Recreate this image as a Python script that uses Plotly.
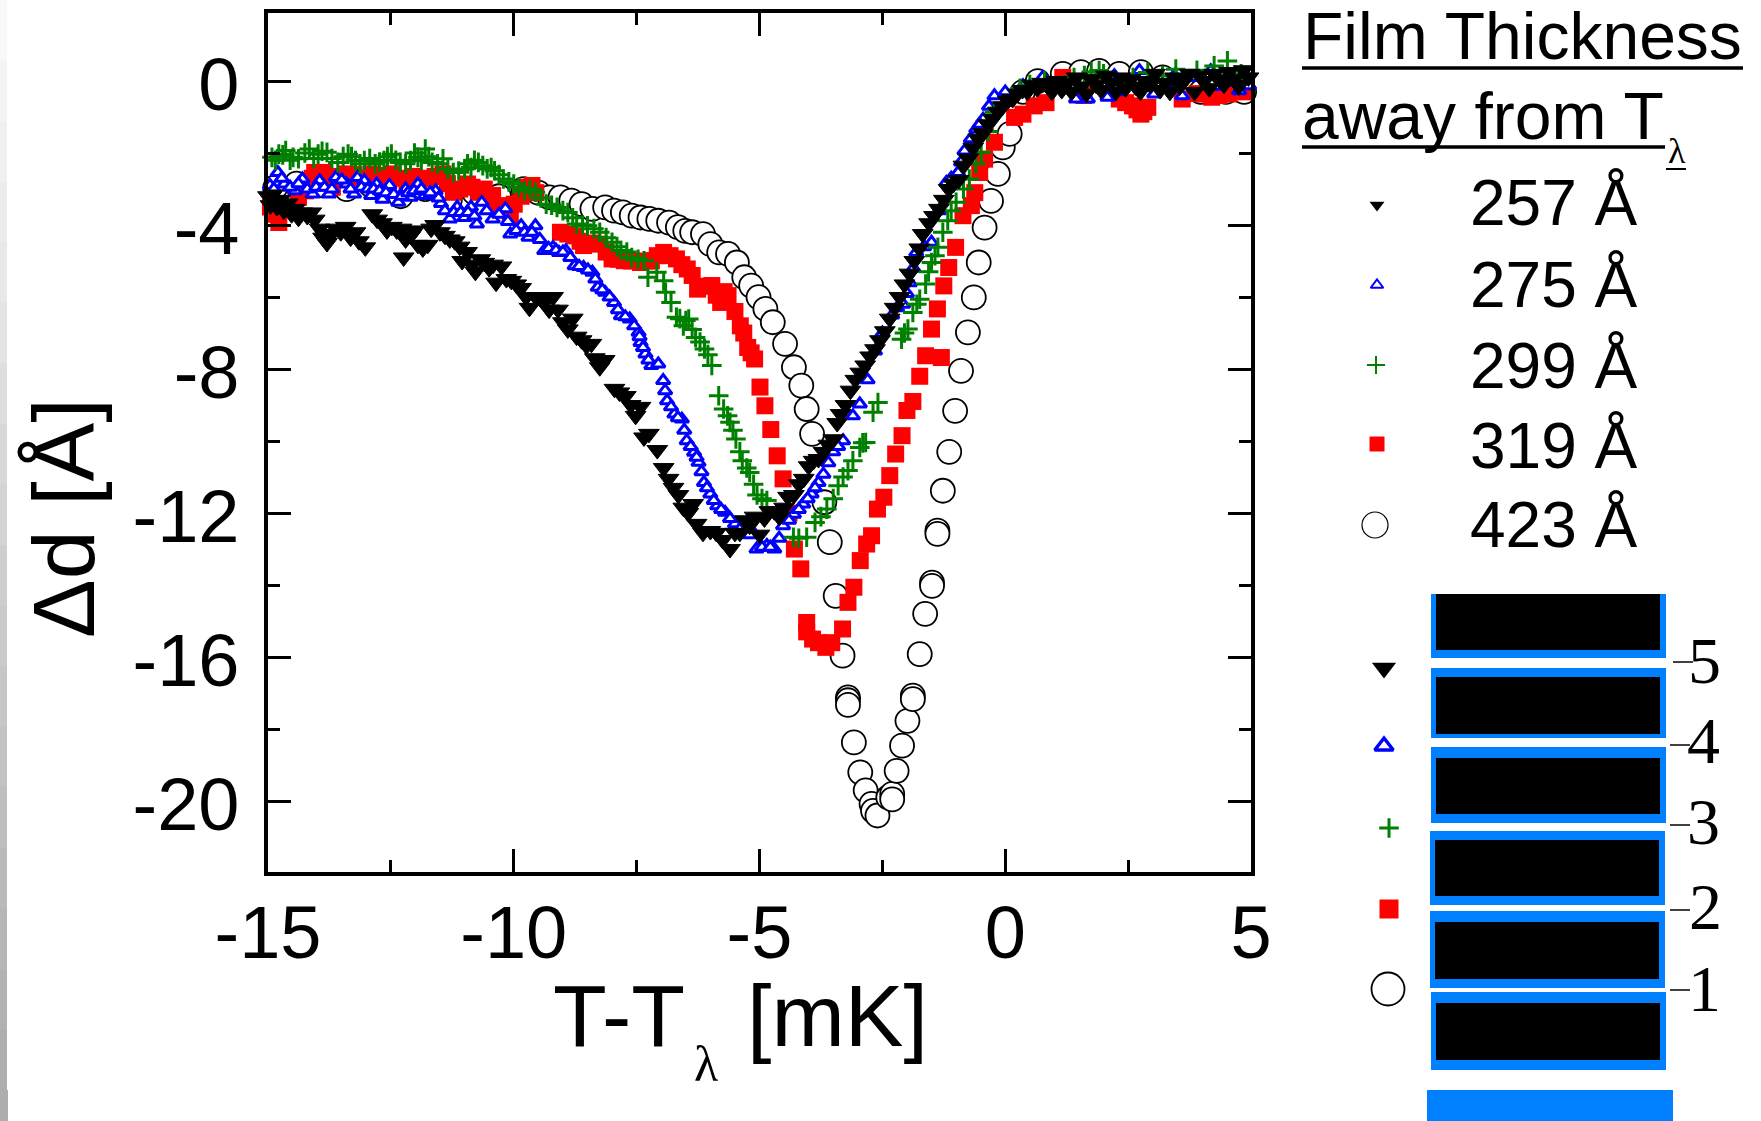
import plotly.graph_objects as go

W, H = 1761, 1121

x_tick_vals = [-15, -10, -5, 0, 5]
x_tick_text = ["-15", "-10", "-5", "0", "5"]
x_minor_vals = [-12.5, -7.5, -2.5, 2.5]
y_tick_vals = [0, -4, -8, -12, -16, -20]
y_tick_text = ["0", "-4", "-8", "-12", "-16", "-20"]
y_minor_vals = [-2, -6, -10, -14, -18]

x_257 = [-15.0,-14.95,-14.9,-14.82,-14.75,-14.68,-14.6,-14.52,-14.45,-14.38,-14.3,-14.2,-14.12,-14.05,-13.95,-13.88,-13.8,-13.72,-13.62,-13.52,-13.42,-13.32,-13.22,-13.15,-13.02,
 -12.88,-12.78,-12.68,-12.58,-12.48,-12.38,-12.28,-12.24,-12.2,-12.1,-12.02,-11.95,-11.85,-11.75,-11.68,-11.6,-11.5,-11.4,-11.3,-11.2,-11.1,-11.05,-10.95,-10.85,-10.78,-10.68,-10.6,-10.5,
 -10.42,-10.36,-10.25,-10.15,-10.05,-9.95,-9.85,-9.75,-9.68,-9.55,-9.45,-9.35,-9.28,-9.2,-9.1,-9.0,-8.9,-8.8,-8.72,-8.62,-8.52,-8.42,-8.35,-8.25,-8.15,
 -7.95,-7.85,-7.72,-7.62,-7.52,-7.42,-7.35,-7.25,-7.08,-6.95,-6.85,-6.75,-6.65,-6.55,-6.45,-6.35,-6.28,-6.15,-6.0,-5.88,-5.75,-5.6,-5.5,-5.4,-5.3,-5.2,-5.1,-5.0,-4.9,-4.8,-4.7,-4.6,-4.5,-4.42,-4.3,-4.2,-4.1,-4.0,-3.9,-3.8,-3.7,-3.6,-3.5,-3.42,-3.35,-3.25,-3.15,-3.05,-2.95,-2.85,-2.75,-2.65,-2.55,-2.45,-2.35,-2.25,-2.15,-2.05,-1.95,-1.85,-1.75,-1.68,-1.55,-1.45,-1.35,-1.25,-1.15,-1.05,-0.95,-0.85,-0.75,-0.65,-0.55,-0.45,-0.35,-0.25,-0.15,-0.05,0.05,0.15,0.25,0.35,0.45,0.55,0.65,0.75,
 0.85,0.95,1.05,1.15,1.25,1.35,1.45,1.55,1.65,1.75,1.85,1.95,2.05,2.15,2.25,2.35,2.45,2.55,2.65,2.75,2.85,2.95,3.05,3.15,3.25,3.35,3.45,3.55,3.65,3.75,3.85,3.95,4.05,4.15,4.25,4.35,4.45,4.55,4.65,4.75,4.85,4.95]
y_257 = [-3.2,-3.45,-3.15,-3.5,-3.3,-3.6,-3.4,-3.7,-3.55,-3.8,-3.65,-3.75,-3.65,-3.85,-4.1,-4.35,-4.5,-4.25,-4.1,-4.2,-4.05,-4.35,-4.2,-4.45,-4.62,
 -3.7,-3.85,-3.95,-4.15,-4.05,-4.15,-4.1,-4.9,-4.4,-4.3,-4.15,-4.55,-4.65,-4.55,-4.1,-4.0,-4.2,-4.3,-4.4,-4.45,-4.6,-5.0,-4.75,-5.1,-5.3,-4.95,-5.05,-5.2,
 -5.1,-5.6,-5.15,-5.5,-5.55,-5.65,-5.75,-6.0,-6.3,-6.0,-6.05,-6.1,-6.35,-6.0,-6.35,-6.7,-6.9,-6.6,-7.1,-7.2,-7.35,-7.3,-7.7,-7.95,-7.75,
 -8.55,-8.65,-8.75,-9.0,-9.3,-9.05,-9.9,-9.8,-10.25,-10.75,-11.05,-11.3,-11.5,-11.85,-12.0,-11.75,-12.3,-12.55,-12.5,-12.55,-12.75,-13.0,-12.55,-12.55,-12.2,-12.35,-12.1,-12.6,-12.15,-11.95,-11.95,-12.1,-11.85,-11.55,-11.5,-11.2,-11.05,-10.7,-10.55,-10.5,-10.3,-10.1,-9.95,-9.5,-9.25,-9.0,-8.6,-8.3,-8.1,-7.9,-7.65,-7.45,-7.2,-6.95,-6.6,-6.3,-6.0,-5.65,-5.35,-5.0,-4.65,-4.25,-3.95,-3.75,-3.55,-3.3,-3.0,-2.85,-2.75,-2.35,-2.15,-1.85,-1.6,-1.45,-1.2,-1.05,-0.85,-0.7,-0.55,-0.5,-0.35,-0.25,-0.3,-0.1,-0.2,-0.05,
 -0.1,-0.3,0.0,-0.25,-0.05,-0.3,0.1,-0.15,-0.35,0.05,-0.1,-0.25,0.15,-0.05,-0.3,0.1,-0.2,0.05,-0.15,-0.3,0.0,-0.1,0.2,-0.25,-0.05,-0.3,0.1,-0.15,0.05,0.2,-0.3,0.15,0.0,-0.2,0.2,0.05,-0.1,0.25,0.05,-0.15,0.3,0.1]

x_275 = [-14.96,-14.8,-14.67,-14.45,-14.3,-14.09,-13.95,-13.76,-13.62,-13.4,-13.25,-13.18,-13.04,-12.9,-12.79,-12.67,-12.53,-12.35,-12.2,-12.1,-11.95,-11.81,-11.59,-11.48,-11.3,-11.15,-11.0,-10.87,-10.75,-10.65,-10.43,-10.17,-10.07,-9.85,-9.7,-9.56,-9.38,-9.2,-9.08,-8.94,-8.76,-8.58,-8.4,-8.29,-8.14,-7.96,-7.82,-7.64,-7.46,-7.42,-7.32,-7.2,-7.06,-6.96,-6.88,-6.73,-6.58,-6.48,-6.33,-6.24,-6.13,-6.0,-5.86,-5.7,-5.5,-5.31,-5.13,-5.06,-4.85,-4.7,-4.52,-4.3,-4.11,-3.94,-3.8,-3.7,-3.5,-3.3,-3.1,-2.96,-2.8,-2.65,-2.5,-2.3,-2.08,-1.94,-1.81,-1.5,-1.2,-0.96,-0.83,-0.59,-0.45,-0.22,0.36,0.76,1.44,1.68,2.08,2.22,2.52,2.73,3.03,3.44,3.6,4.18,4.55,4.76,4.96,
 -14.88,-14.72,-14.55,-14.38,-14.2,-14.02,-13.85,-13.7,-13.5,-13.32,-13.1,-12.97,-12.85,-12.73,-12.6,-12.44,-12.28,-12.15,-12.03,-11.88,-11.7,-11.53,-11.4,-11.22,-11.08,-10.93,-10.8,-10.55,-10.3,-10.12,-9.95,-9.78,-9.63,-9.47,-9.29,-9.14,-9.0,-8.85,-8.67,-8.49,-8.34,-8.2,-8.05,-7.88,-7.73,-7.55,-7.44,-7.37,-7.26,-6.92,-6.8,-6.66,-6.53,-6.4,-6.28,-6.18,-6.07,-5.93,-5.78,-5.6,-5.4,-5.2,-4.95,-4.78,-4.6,-4.4,-4.2,-4.02,-3.87,-3.6,-3.4,-2.2,-2.0,-1.87,-1.65,-1.35,-1.1,-0.9,-0.7,-0.52,-0.33,0.0,1.0,2.3,2.95,3.3,3.8,4.35]
y_275 = [-2.9,-2.54,-2.86,-3.05,-2.72,-3.14,-2.77,-3.14,-2.68,-2.86,-3.14,-2.68,-2.77,-3.18,-2.86,-3.28,-2.9,-3.37,-3.0,-3.23,-2.86,-3.18,-3.05,-3.4,-3.83,-3.5,-3.79,-3.5,-3.97,-3.37,-3.83,-3.55,-4.25,-4.02,-4.34,-4.02,-4.71,-4.62,-4.76,-4.71,-5.13,-5.18,-5.31,-5.73,-5.87,-6.15,-6.52,-6.61,-6.98,-7.26,-7.58,-7.9,-7.86,-8.32,-8.88,-9.25,-9.39,-9.99,-10.31,-10.59,-11.15,-11.47,-11.8,-11.98,-12.3,-12.58,-12.54,-13.0,-12.9,-13.0,-12.35,-12.03,-11.75,-11.47,-11.15,-10.92,-10.3,-9.99,-9.3,-8.97,-8.3,-7.5,-7.0,-6.5,-6.2,-5.6,-4.76,-4.48,-2.82,-2.54,-1.94,-1.33,-1.06,-0.41,-0.13,0.1,-0.5,-0.5,-0.45,0.15,-0.04,0.29,-0.36,0.15,-0.41,0.29,-0.04,-0.27,-0.13,
 -3.0,-2.7,-2.95,-2.85,-3.0,-2.95,-2.95,-3.0,-2.75,-3.0,-2.95,-3.0,-3.0,-3.05,-3.1,-3.15,-3.2,-3.1,-3.05,-3.0,-3.1,-3.25,-3.6,-3.65,-3.65,-3.65,-3.75,-3.6,-3.7,-3.9,-4.15,-4.2,-4.2,-4.4,-4.65,-4.7,-4.75,-4.9,-5.15,-5.25,-5.5,-5.8,-6.0,-6.35,-6.55,-6.8,-7.1,-7.4,-7.75,-8.6,-9.05,-9.35,-9.7,-10.15,-10.45,-10.85,-11.3,-11.65,-11.9,-12.15,-12.45,-12.6,-12.95,-12.95,-12.7,-12.2,-11.9,-11.6,-11.3,-10.6,-10.15,-6.3,-5.9,-5.2,-4.6,-3.6,-2.7,-2.25,-1.6,-1.2,-0.7,-0.3,-0.1,-0.3,-0.1,-0.2,0.1,-0.15]

x_299 = [-14.92,-14.78,-14.64,-14.49,-14.38,-14.16,-13.98,-13.8,-13.58,-13.37,-13.22,-13.04,-12.82,-12.64,-12.49,-12.31,-12.1,-11.95,-11.8,-11.66,-11.44,-11.23,-11.0,-10.87,-10.72,-10.54,-10.39,-10.21,-10.0,-9.78,-9.56,-9.34,-9.12,-8.9,-8.72,-8.5,-8.25,-8.0,-7.82,-7.6,-7.35,-7.27,-7.09,-6.95,-6.91,-6.8,-6.69,-6.55,-6.44,-6.3,-6.12,-5.97,-5.83,-5.73,-5.6,-5.48,-5.35,-5.2,-5.12,-4.95,-4.31,-4.04,-3.87,-3.63,-3.4,-3.2,-3.1,-2.96,-2.84,-2.69,-2.59,-2.11,-1.98,-1.88,-1.74,-1.62,-1.5,-1.37,-1.17,-1.0,-0.73,-0.49,-0.22,0.3,0.8,1.2,1.61,1.91,2.3,2.9,3.47,4.25,4.52,4.8,
 -14.85,-14.7,-14.55,-14.25,-14.07,-13.9,-13.7,-13.47,-13.3,-13.13,-12.93,-12.73,-12.57,-12.4,-12.2,-12.02,-11.88,-11.73,-11.55,-11.34,-11.12,-10.94,-10.8,-10.63,-10.46,-10.3,-10.1,-9.9,-9.67,-9.45,-9.23,-9.0,-8.8,-8.6,-8.37,-8.12,-7.9,-7.7,-7.47,-6.62,-6.5,-6.37,-6.21,-6.05,-5.65,-5.54,-5.4,-5.26,-5.05,-4.85,-4.2,-3.75,-3.5,-3.3,-2.9,-2.05,-1.8,-1.56,-1.43,-1.27,-1.1,-0.85,-0.6,-0.35,0.5,1.4,1.75,2.0,2.6,3.2,3.9]
y_299 = [-2.12,-2.03,-1.93,-2.12,-2.16,-1.89,-2.03,-1.98,-2.26,-2.03,-2.21,-2.21,-2.3,-2.21,-2.03,-2.26,-2.21,-2.12,-1.89,-2.26,-2.16,-2.54,-2.44,-2.4,-2.26,-2.44,-2.49,-2.72,-2.86,-3.05,-3.09,-3.42,-3.51,-3.65,-3.97,-4.02,-4.2,-4.48,-4.71,-4.9,-4.99,-5.45,-5.31,-5.55,-5.87,-6.15,-6.56,-6.8,-6.61,-7.12,-7.44,-7.9,-8.74,-9.11,-9.48,-9.94,-10.55,-10.87,-11.2,-11.6,-12.67,-12.67,-12.26,-11.89,-11.24,-10.82,-10.55,-10.18,-10.04,-9.2,-8.93,-7.17,-6.89,-6.43,-6.06,-5.64,-5.04,-4.62,-3.88,-3.37,-2.72,-1.98,-0.87,-0.2,0.0,-0.1,0.15,0.29,-0.05,0.24,0.33,0.42,0.56,0.2,
 -2.2,-2.05,-2.2,-2.0,-2.15,-1.95,-2.15,-2.1,-2.1,-2.3,-2.15,-2.25,-2.1,-2.2,-2.3,-2.0,-2.2,-2.1,-2.3,-2.45,-2.5,-2.3,-2.2,-2.35,-2.4,-2.6,-2.8,-2.95,-3.0,-3.25,-3.45,-3.6,-3.8,-4.0,-4.1,-4.35,-4.6,-4.75,-4.95,-6.6,-6.65,-6.9,-7.25,-7.6,-9.3,-9.7,-10.3,-10.75,-11.5,-11.65,-12.7,-12.1,-11.6,-11.0,-10.05,-7.0,-6.2,-5.3,-4.85,-4.2,-3.6,-3.0,-2.3,-1.4,-0.1,0.1,0.25,0.2,0.1,0.15,0.3]

x_319 = [-14.95,-14.88,-14.78,-14.38,-14.24,-14.05,-13.87,-13.69,-13.4,-13.11,-12.9,-12.65,-12.46,-12.17,-11.95,-11.74,-11.44,-11.23,-10.94,-10.72,-10.43,-10.32,-10.07,-9.99,-9.74,-9.63,
 -9.05,-8.76,-8.58,-8.25,-8.0,-7.75,-7.42,-7.2,-6.95,-6.69,-6.47,-6.26,-5.97,-5.79,-5.64,-5.39,-5.24,-5.1,-4.99,-4.89,-4.77,-4.64,-4.52,-4.4,-4.29,-4.16,-4.04,-4.04,-3.92,-3.8,-3.65,-3.53,-3.31,-3.2,-3.08,-2.95,-2.82,-2.72,-2.6,-2.47,-2.35,-2.23,-2.1,-2.0,-1.88,-1.74,-1.62,-1.5,-1.38,-1.3,-1.25,-1.15,-1.01,-0.86,-0.69,-0.62,-0.52,-0.42,-0.22,0.19,0.36,0.59,0.83,1.17,1.6,2.32,2.59,2.76,2.9,3.6,4.05,4.2,4.55,4.89,
 -14.1,-13.95,-13.8,-13.55,-13.25,-13.0,-12.78,-12.55,-12.3,-12.05,-11.85,-11.6,-11.35,-11.1,-10.85,-10.6,-10.2,-9.85,-9.55,
 -8.9,-8.65,-8.4,-8.12,-7.88,-7.6,-7.3,-7.08,-6.82,-6.58,-6.37,-6.12,-5.88,-5.72,-5.5,-5.32,-5.17,2.45,2.68,2.82,3.9,4.35]
y_319 = [-3.5,-3.7,-3.93,-3.23,-3.05,-2.54,-2.54,-2.95,-2.58,-2.72,-2.58,-2.68,-2.58,-2.86,-2.77,-2.72,-2.58,-3.09,-2.86,-3.09,-3.18,-3.46,-3.79,-3.42,-2.95,-2.9,
 -4.2,-4.3,-4.57,-4.53,-4.94,-4.99,-5.04,-4.99,-4.76,-4.94,-5.22,-5.78,-5.68,-6.15,-5.96,-6.8,-7.4,-7.72,-8.5,-9.02,-9.68,-10.41,-11.05,-12.0,-13.0,-13.55,-15.04,-15.3,-15.5,-15.6,-15.73,-15.6,-15.22,-14.48,-14.06,-13.32,-12.86,-12.63,-11.89,-11.56,-10.96,-10.36,-9.85,-9.15,-8.9,-8.2,-7.63,-6.89,-6.33,-7.68,-5.69,-5.18,-4.62,-3.74,-3.46,-3.1,-2.54,-2.17,-1.7,-1.01,-0.92,-0.69,-0.6,0.1,-0.4,-0.5,-0.69,-0.92,-0.73,-0.5,-0.36,-0.45,-0.36,-0.3,
 -2.7,-2.6,-2.8,-2.65,-2.6,-2.7,-2.62,-2.75,-2.7,-2.65,-2.7,-2.65,-2.85,-3.0,-2.95,-3.0,-3.55,-3.2,-3.1,
 -4.25,-4.45,-4.5,-4.75,-4.95,-5.0,-5.0,-4.85,-4.85,-5.1,-5.4,-5.7,-5.95,-5.85,-6.4,-7.0,-7.55,-0.6,-0.8,-0.85,-0.35,-0.4]

x_423 = [-14.85,-14.42,-13.9,-13.4,-12.9,-12.3,-11.8,-11.3,-10.8,-10.3,-9.8,-9.5,-9.27,-9.05,-8.83,-8.62,-8.4,-8.14,-7.96,-7.78,-7.6,-7.42,-7.24,-7.06,-6.84,-6.66,-6.51,-6.37,-6.15,-6.0,-5.82,-5.64,-5.46,-5.31,-5.17,-5.02,-4.88,-4.73,-4.48,-4.3,-4.15,-4.04,-3.93,-3.68,-3.57,-3.45,-3.31,-3.2,-3.2,-3.2,-3.08,-2.95,-2.84,-2.72,-2.69,-2.6,-2.38,-2.3,-2.3,-2.21,-2.1,-1.99,-1.88,-1.88,-1.74,-1.63,-1.49,-1.49,-1.38,-1.38,-1.27,-1.14,-1.02,-0.9,-0.76,-0.64,-0.54,-0.42,-0.29,-0.15,-0.05,0.09,0.36,0.66,1.17,1.54,1.91,2.32,2.76,3.2,3.98,4.49,4.86]
y_423 = [-2.95,-2.85,-2.9,-3.0,-2.9,-3.2,-3.0,-3.3,-3.1,-3.2,-3.0,-3.1,-3.23,-3.23,-3.32,-3.42,-3.55,-3.51,-3.6,-3.65,-3.74,-3.79,-3.83,-3.88,-3.93,-4.06,-4.16,-4.2,-4.25,-4.53,-4.76,-4.8,-5.04,-5.45,-5.68,-6.0,-6.33,-6.7,-7.3,-7.95,-8.46,-9.11,-9.8,-11.7,-12.81,-14.3,-15.96,-17.12,-17.2,-17.33,-18.37,-19.2,-19.7,-20.08,-20.27,-20.4,-19.9,-19.8,-19.95,-19.16,-18.46,-17.77,-17.07,-17.17,-15.92,-14.8,-13.93,-14.02,-12.49,-12.58,-11.38,-10.3,-9.16,-8.05,-6.98,-6.01,-5.04,-4.07,-3.33,-2.58,-1.84,-1.47,-0.3,0.0,0.2,0.25,0.28,0.2,0.25,0.1,-0.3,-0.3,-0.3]

# legend keys and layer stack, in page pixels
key_names = ["257 Å", "275 Å", "299 Å", "319 Å", "423 Å"]
key_labels = [(1470, 224), (1470, 306), (1470, 387), (1470, 467), (1470, 546)]
upper_keys = [(1377, 205), (1377, 285), (1376, 365), (1377, 444), (1375, 525)]
lower_keys = [(1384, 668), (1384, 746), (1389, 828), (1389, 909), (1388, 989)]
blue_rects = [(1431,594,1666,658),(1431,668,1666,738),(1431,747,1666,823),(1430,831,1665,905),(1430,911,1665,988),(1431,992,1666,1070)]
black_rects = [(1436,594,1660,650),(1436,677,1660,734),(1436,758,1660,814),(1435,840,1659,896),(1435,922,1659,979),(1436,1003,1660,1060)]
layer_labels = [("5",1704,660,1673,1693,662),("4",1703,740,1670,1690,745),("3",1703,821,1670,1690,825),("2",1705,906,1670,1690,910),("1",1704,988,1670,1690,990)]
strip_greys = ["#F8F8F8","#F4F4F4","#F0F0F0","#ECECEC","#E8E8E8","#E4E4E4","#DEDEDE","#D8D8D8","#D4D4D4","#CECECE","#CACACA","#C6C6C6","#C2C2C2","#BEBEBE","#BABABA","#B6B6B6","#B2B2B2","#AEAEAE"]

BLUE, GREEN, RED = "#0000FF", "#008000", "#FF0000"
SKY = "#0080FF"
SANS, SERIF = "Liberation Sans", "Liberation Serif"

def px(x): return x / W
def py(y): return 1 - y / H

styles = {
 "423": dict(symbol="circle", size=24, color="white", line=dict(color="black", width=1.8)),
 "319": dict(symbol="square", size=17, color=RED, line=dict(width=0)),
 "275": dict(symbol="triangle-up", size=12, color="white", line=dict(color=BLUE, width=3)),
 "299": dict(symbol="cross-thin", size=14, color=GREEN, line=dict(color=GREEN, width=3)),
 "257": dict(symbol="triangle-down", size=18, color="black", line=dict(color="black", width=1)),
}

fig = go.Figure()
for key, xs, ys in [("423", x_423, y_423), ("319", x_319, y_319), ("275", x_275, y_275), ("299", x_299, y_299), ("257", x_257, y_257)]:
    fig.add_trace(go.Scatter(x=xs, y=ys, mode="markers", name=key + " Å", marker=styles[key], showlegend=False, cliponaxis=False))

up = {"257": dict(symbol="triangle-down", size=13, color="black"),
      "275": dict(symbol="triangle-up", size=11, color="white", line=dict(color=BLUE, width=2)),
      "299": dict(symbol="cross-thin", size=13, color=GREEN, line=dict(color=GREEN, width=2)),
      "319": dict(symbol="square", size=15, color=RED),
      "423": dict(symbol="circle", size=26, color="white", line=dict(color="black", width=1.2))}
low = {"257": dict(symbol="triangle-down", size=21, color="black"),
       "275": dict(symbol="triangle-up", size=16, color="white", line=dict(color=BLUE, width=3.5)),
       "299": dict(symbol="cross-thin", size=14, color=GREEN, line=dict(color=GREEN, width=3)),
       "319": dict(symbol="square", size=19, color=RED),
       "423": dict(symbol="circle", size=33, color="white", line=dict(color="black", width=1.8))}
for (k, m), pos in zip(list(up.items()) + list(low.items()), upper_keys + lower_keys):
    fig.add_trace(go.Scatter(x=[pos[0]], y=[pos[1]], xaxis="x2", yaxis="y2", mode="markers", marker=m, showlegend=False, hoverinfo="skip"))

shapes = []
def rect(x0, y0, x1, y1, color):
    shapes.append(dict(type="rect", xref="paper", yref="paper", x0=px(x0), x1=px(x1), y0=py(y1), y1=py(y0), fillcolor=color, line=dict(width=0), layer="below"))
def hline(x0, x1, y, w=3):
    shapes.append(dict(type="line", xref="paper", yref="paper", x0=px(x0), x1=px(x1), y0=py(y), y1=py(y), line=dict(color="black", width=w)))

band = 1090 / len(strip_greys)
for i, g in enumerate(strip_greys):
    rect(0, i * band, 7, (i + 1) * band + 1, g)
rect(0, 1090, 8, H, "#AEAEAE")
for r in blue_rects: rect(*r, SKY)
for r in black_rects: rect(*r, "black")
rect(1427, 1090, 1673, H, SKY)
hline(1302, 1743, 68, 3.5)
hline(1302, 1665, 147, 3.5)
hline(1666, 1686, 169, 2)
for _, _, _, x0, x1, y in layer_labels: hline(x0, x1, y, 1.5)

ann = []
def text(s, x, y, size, family=SANS, xanchor="left", yanchor="middle", angle=0):
    ann.append(dict(text=s, x=px(x), y=py(y), xref="paper", yref="paper", showarrow=False, xanchor=xanchor, yanchor=yanchor,
                    font=dict(size=size, family=family, color="black"), textangle=angle, borderpad=0, borderwidth=0))

text("Film Thickness", 1303, 36, 66)
text("away from T", 1302, 116, 66)
text("λ", 1677, 151, 36, SERIF, "center")
for s, (x, y) in zip(key_names, key_labels):
    text(s, x, y - 21, 64)
for s, x, y, *_ in layer_labels:
    text(s, x, y, 66, SERIF, "center")
text("T-T", 553, 1015, 88)
text("λ", 706, 1064, 50, SERIF, "center")
text("[mK]", 747, 1015, 88)
text("Δd [Å]", 63, 518, 88, SANS, "center", "middle", -90)

axis_common = dict(showline=True, linecolor="black", linewidth=3.5, mirror="ticks", ticks="inside", showgrid=False, zeroline=False, automargin=False,
                   tickfont=dict(size=74, family=SANS, color="black"), tickcolor="black", ticklen=23)
fig.update_layout(
    width=W, height=H, margin=dict(l=0, r=0, t=0, b=0), paper_bgcolor="white", plot_bgcolor="rgba(0,0,0,0)", showlegend=False,
    xaxis=dict(domain=[px(268), px(1251)], range=[-15, 5], tickmode="array", tickvals=x_tick_vals, ticktext=x_tick_text, tickwidth=2.5,
               ticklabelstandoff=-7, minor=dict(tickmode="array", tickvals=x_minor_vals, ticks="inside", ticklen=12, tickwidth=2.5, tickcolor="black", showgrid=False), **axis_common),
    yaxis=dict(domain=[py(872), py(13)], range=[-21.97, 1.89], tickmode="array", tickvals=y_tick_vals, ticktext=y_tick_text, tickwidth=3,
               ticklabelstandoff=10, ticklabelshift=3, minor=dict(tickmode="array", tickvals=y_minor_vals, ticks="inside", ticklen=12, tickwidth=3, tickcolor="black", showgrid=False), **axis_common),
    xaxis2=dict(domain=[0, 1], range=[0, W], visible=False, anchor="y2", automargin=False),
    yaxis2=dict(domain=[0, 1], range=[H, 0], visible=False, anchor="x2", automargin=False),
    shapes=shapes, annotations=ann,
)
fig.write_html("out.html", config=dict(displayModeBar=False), post_script="document.body.style.margin='0';document.body.style.overflow='hidden';")
